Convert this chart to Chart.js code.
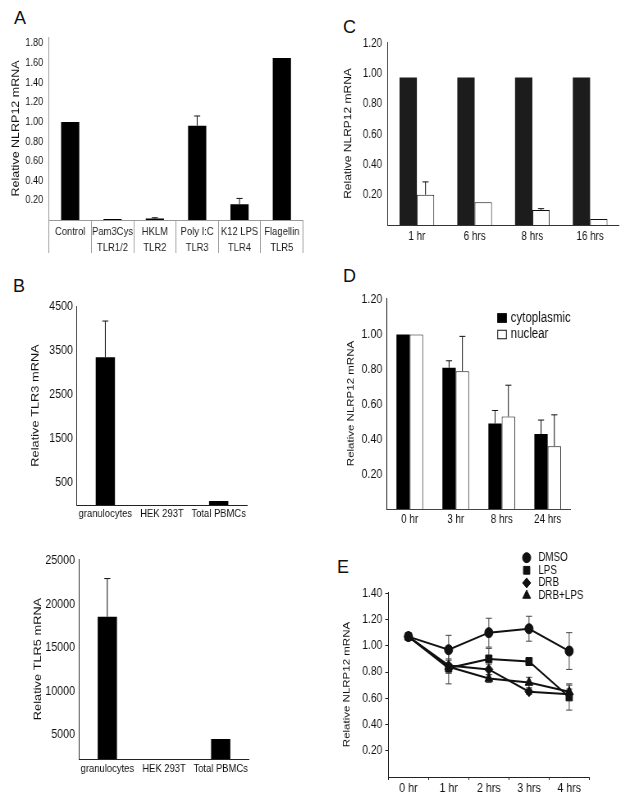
<!DOCTYPE html>
<html>
<head>
<meta charset="utf-8">
<script src="https://cdn.jsdelivr.net/npm/chart.js@4.4.0/dist/chart.umd.min.js"></script>
<style>
  body { margin: 0; background: #fff; width: 626px; height: 799px; position: relative; overflow: hidden; }
  /* the original figure is squeezed horizontally, so every panel is drawn wider and scaled back */
  .panel { position: absolute; transform: scaleX(0.82); transform-origin: 0 0; }
  .letter { position: absolute; font: 18px/1 "Liberation Sans", Arial, sans-serif; color: #111; }
</style>
</head>
<body>
<div class="letter" style="left:14px;top:9px">A</div>
<div class="letter" style="left:13px;top:277px">B</div>
<div class="letter" style="left:343px;top:18px">C</div>
<div class="letter" style="left:343px;top:267px">D</div>
<div class="letter" style="left:337px;top:558px">E</div>

<div class="panel" style="left:0;top:0;width:390px;height:262px"><canvas id="chartA"></canvas></div>
<div class="panel" style="left:0;top:290px;width:390px;height:240px"><canvas id="chartB1"></canvas></div>
<div class="panel" style="left:0;top:530px;width:390px;height:269px"><canvas id="chartB2"></canvas></div>
<div class="panel" style="left:320px;top:0;width:373px;height:250px"><canvas id="chartC"></canvas></div>
<div class="panel" style="left:320px;top:280px;width:373px;height:250px"><canvas id="chartD"></canvas></div>
<div class="panel" style="left:320px;top:540px;width:373px;height:259px"><canvas id="chartE"></canvas></div>

<script>
// ---- data ----
// A: NLRP12 after TLR agonists
const aLabels = [['Control', ''], ['Pam3Cys', 'TLR1/2'], ['HKLM', 'TLR2'], ['Poly I:C', 'TLR3'], ['K12 LPS', 'TLR4'], ['Flagellin', 'TLR5']];
const aValues = [1.00, 0.01, 0.015, 0.96, 0.16, 1.65];
const aErrors = [0, 0, 0.008, 0.10, 0.06, 0];
const aTicks = [0.2, 0.4, 0.6, 0.8, 1.0, 1.2, 1.4, 1.6, 1.8];

// B: TLR3 / TLR5 in cell types
const bCells = ['granulocytes', 'HEK 293T', 'Total PBMCs'];
const tlr3Values = [3340, 0, 90];
const tlr3Errors = [820, 0, 0];
const tlr3Ticks = [500, 1500, 2500, 3500, 4500];
const tlr5Values = [18550, 0, 4500];
const tlr5Errors = [4400, 0, 0];
const tlr5Ticks = [5000, 10000, 15000, 20000, 25000];

// C: time course
const cTimes = ['1 hr', '6 hrs', '8 hrs', '16 hrs'];
const cBlack = [0.975, 0.975, 0.975, 0.975];
const cWhite = [0.20, 0.15, 0.10, 0.04];
const cWhiteErr = [0.085, 0, 0.008, 0];
const cTicks = [0.2, 0.4, 0.6, 0.8, 1.0, 1.2];

// D: cytoplasmic vs nuclear
const dTimes = ['0 hr', '3 hr', '8 hrs', '24 hrs'];
const dCyto = [1.00, 0.81, 0.49, 0.43];
const dCytoErr = [0, 0.04, 0.075, 0.08];
const dNuc = [1.00, 0.79, 0.53, 0.36];
const dNucErr = [0, 0.20, 0.18, 0.18];
const dTicks = [0.2, 0.4, 0.6, 0.8, 1.0, 1.2];

// E: DRB / LPS
const eTimes = ['0 hr', '1 hr', '2 hrs', '3 hrs', '4 hrs'];
const eDMSO = [1.07, 0.97, 1.10, 1.13, 0.96];
const eDMSOErr = [0, 0.11, 0.11, 0.095, 0.14];
const eLPS = [1.07, 0.83, 0.90, 0.88, 0.61];
const eLPSErr = [0, 0.12, 0.08, 0.03, 0.10];
const eDRB = [1.07, 0.85, 0.82, 0.65, 0.63];
const eDRBErr = [0, 0.05, 0.04, 0.02, 0.04];
const eDRBLPS = [1.07, 0.84, 0.75, 0.72, 0.65];
const eDRBLPSErr = [0, 0.05, 0.03, 0.04, 0.05];
const eTicks = [0.2, 0.4, 0.6, 0.8, 1.0, 1.2, 1.4];

const SANS = '"Liberation Sans", Arial, sans-serif';
const INK = '#111';
Chart.defaults.font.family = SANS;
Chart.defaults.color = INK;
Chart.defaults.animation = false;

// error bars (one sided for bars, both sides for lines)
const errorBars = {
  id: 'errorBars',
  draw(chart) {
    const ctx = chart.ctx;
    const y = chart.scales.y;
    chart.data.datasets.forEach((ds, i) => {
      if (!ds.errors) return;
      const meta = chart.getDatasetMeta(i);
      ctx.save();
      ctx.strokeStyle = ds.errorColor || '#111';
      ctx.lineWidth = 1;
      meta.data.forEach((el, j) => {
        const e = ds.errors[j];
        if (!e) return;
        const v = ds.data[j];
        const top = y.getPixelForValue(v + e);
        const both = ds.errorBoth;
        const bottom = both ? y.getPixelForValue(v - e) : el.y;
        const cap = ds.errorCap || 3.7;
        ctx.beginPath();
        ctx.moveTo(el.x, bottom);
        ctx.lineTo(el.x, top);
        ctx.moveTo(el.x - cap, top);
        ctx.lineTo(el.x + cap, top);
        if (both) {
          ctx.moveTo(el.x - cap, bottom);
          ctx.lineTo(el.x + cap, bottom);
        }
        ctx.stroke();
      });
      ctx.restore();
    });
  },
  beforeDatasetsDraw(chart) { if (chart.config.type === 'line') this.draw(chart); },
  afterDatasetsDraw(chart) { if (chart.config.type === 'bar') this.draw(chart); }
};

// small legend placed inside the panel
const cornerLegend = {
  id: 'cornerLegend',
  afterDraw(chart, args, opts) {
    if (opts.x === undefined) return;
    const ctx = chart.ctx;
    ctx.save();
    ctx.font = opts.font;
    ctx.textBaseline = 'middle';
    chart.data.datasets.forEach((ds, i) => {
      const y = opts.y + i * opts.step;
      if (opts.marker === 'box') {
        const w = opts.boxW, h = opts.boxH;
        ctx.fillStyle = ds.backgroundColor;
        ctx.fillRect(opts.x - w / 2, y - h / 2, w, h);
        ctx.strokeStyle = '#111';
        ctx.lineWidth = 1;
        ctx.strokeRect(opts.x - w / 2 + 0.5, y - h / 2 + 0.5, w - 1, h - 1);
      } else {
        ctx.fillStyle = '#111';
        ctx.strokeStyle = '#111';
        Chart.helpers.drawPoint(ctx, { pointStyle: ds.pointStyle, radius: ds.pointRadius, borderWidth: 1, rotation: 0 }, opts.x, y);
      }
      ctx.fillStyle = INK;
      ctx.fillText(ds.label, opts.textX, y);
    });
    ctx.restore();
  }
};
Chart.register(errorBars, cornerLegend);

function fixed(size) { return function (scale) { if (scale.isHorizontal()) scale.height = size; else scale.width = size; }; }
function ticksFrom(list) { return function (scale) { scale.ticks = list.map(v => ({ value: v })); }; }

function yAxis(o) {
  return {
    min: o.min, max: o.max,
    afterFit: fixed(o.width),
    afterBuildTicks: ticksFrom(o.ticks),
    grid: o.grid || { display: false, drawTicks: false },
    border: { color: o.border || '#000', width: 1 },
    ticks: { font: o.tickFont, color: INK, padding: o.pad, callback: o.fmt || (v => v.toFixed(2)) },
    title: { display: true, text: o.title, font: o.titleFont, color: INK, padding: { top: o.titlePad, bottom: 0 } }
  };
}

// ---- A ----
new Chart(document.getElementById('chartA'), {
  type: 'bar',
  data: { labels: aLabels, datasets: [{ data: aValues, errors: aErrors, backgroundColor: '#000', barPercentage: 0.43, categoryPercentage: 1 }] },
  options: {
    responsive: true, maintainAspectRatio: false,
    layout: { padding: { top: 37, right: 20.5, left: 0, bottom: 0 } },
    plugins: { legend: { display: false }, tooltip: { enabled: false } },
    scales: {
      x: {
        afterFit: fixed(42),
        grid: { offset: true, drawOnChartArea: false, drawTicks: true, tickLength: 33, color: '#9a9a9a' },
        border: { color: '#9a9a9a' },
        ticks: { autoSkip: false, maxRotation: 0, padding: -29.5, font: { size: 11.5, lineHeight: 1.39 }, color: '#222' }
      },
      y: yAxis({ min: 0, max: 1.865, width: 59.8, ticks: aTicks, border: '#9a9a9a', pad: 7.3,
        tickFont: { size: 11 }, title: 'Relative NLRP12 mRNA', titleFont: { size: 12.5 }, titlePad: 12 })
    }
  }
});

// ---- B ----
function cellChart(id, values, errors, ticks, min, max, title, top, bottomH, right, titlePad, labelPad, yw) {
  new Chart(document.getElementById(id), {
    type: 'bar',
    data: { labels: bCells, datasets: [{ data: values, errors: errors, backgroundColor: '#000', barPercentage: 0.34, categoryPercentage: 1 }] },
    options: {
      responsive: true, maintainAspectRatio: false,
      layout: { padding: { top: top, right: right, left: 0, bottom: 0 } },
      plugins: { legend: { display: false }, tooltip: { enabled: false } },
      scales: {
        x: {
          afterFit: fixed(bottomH),
          grid: { display: false, drawTicks: false },
          border: { color: '#222' },
          ticks: { autoSkip: false, maxRotation: 0, padding: labelPad, font: { size: 11.5 }, color: INK }
        },
        y: yAxis({ min: min, max: max, width: yw, ticks: ticks, border: '#222', pad: 4.9, fmt: v => String(v),
          tickFont: { size: 13 }, title: title, titleFont: { size: 12.8 }, titlePad: titlePad })
      }
    }
  });
}
cellChart('chartB1', tlr3Values, tlr3Errors, tlr3Ticks, 0, 4500, 'Relative TLR3 mRNA', 16, 25, 88.8, 36.2, 2, 93.9);
cellChart('chartB2', tlr5Values, tlr5Errors, tlr5Ticks, 2200, 25200, 'Relative TLR5 mRNA', 29, 40, 86.3, 38.5, 3, 96.3);

// ---- C ----
new Chart(document.getElementById('chartC'), {
  type: 'bar',
  data: { labels: cTimes, datasets: [
    { data: cBlack, backgroundColor: '#1c1c1c', barPercentage: 1, categoryPercentage: 0.6 },
    { data: cWhite, errors: cWhiteErr, backgroundColor: '#fff', borderColor: '#111', borderWidth: 1, barPercentage: 1, categoryPercentage: 0.6 }
  ] },
  options: {
    responsive: true, maintainAspectRatio: false,
    layout: { padding: { top: 42, right: 8.4, left: 0, bottom: 0 } },
    plugins: { legend: { display: false }, tooltip: { enabled: false } },
    scales: {
      x: {
        afterFit: fixed(25),
        grid: { display: false, drawTicks: false },
        border: { color: '#333' },
        ticks: { maxRotation: 0, padding: 4.5, font: { size: 12 }, color: INK }
      },
      y: yAxis({ min: 0, max: 1.21, width: 82.9, ticks: cTicks, border: '#333', pad: 7.3,
        tickFont: { size: 12 }, title: 'Relative NLRP12 mRNA', titleFont: { size: 12 }, titlePad: 27.3 })
    }
  }
});

// ---- D ----
new Chart(document.getElementById('chartD'), {
  type: 'bar',
  data: { labels: dTimes, datasets: [
    { label: 'cytoplasmic', data: dCyto, errors: dCytoErr, backgroundColor: '#000', barPercentage: 1, categoryPercentage: 0.58 },
    { label: 'nuclear', data: dNuc, errors: dNucErr, backgroundColor: '#fff', borderColor: '#111', borderWidth: 1, barPercentage: 1, categoryPercentage: 0.58 }
  ] },
  options: {
    responsive: true, maintainAspectRatio: false,
    layout: { padding: { top: 18, right: 67.3, left: 0, bottom: 0 } },
    plugins: {
      legend: { display: false }, tooltip: { enabled: false },
      cornerLegend: { x: 222, y: 38, step: 16.5, boxW: 11.6, boxH: 9.5, marker: 'box', textX: 232.6, font: '14px ' + SANS }
    },
    scales: {
      x: {
        afterFit: fixed(21),
        grid: { display: false, drawTicks: false },
        border: { color: '#444' },
        ticks: { maxRotation: 0, padding: 3, font: { size: 12 }, color: INK }
      },
      y: yAxis({ min: 0, max: 1.21, width: 81.4, ticks: dTicks, border: '#000', pad: 5.5,
        tickFont: { size: 13 }, title: 'Relative NLRP12 mRNA', titleFont: { size: 11.5 }, titlePad: 30.9 })
    }
  }
});

// ---- E ----
function series(label, data, errors, style, radius) {
  return { label: label, data: data, errors: errors, errorBoth: true, errorCap: 3.7, errorColor: '#444',
    borderColor: '#111', backgroundColor: '#111', borderWidth: 2, pointStyle: style, pointRadius: radius,
    pointBackgroundColor: '#111', pointBorderColor: '#111', pointBorderWidth: 1, tension: 0 };
}
new Chart(document.getElementById('chartE'), {
  type: 'line',
  data: { labels: eTimes, datasets: [
    series('DMSO', eDMSO, eDMSOErr, 'circle', 5),
    series('LPS', eLPS, eLPSErr, 'rect', 5.5),
    series('DRB', eDRB, eDRBErr, 'rectRot', 5),
    series('DRB+LPS', eDRBLPS, eDRBLPSErr, 'triangle', 5.5)
  ] },
  options: {
    responsive: true, maintainAspectRatio: false,
    layout: { padding: { top: 52, right: 44.6, left: 0, bottom: 0 } },
    plugins: {
      legend: { display: false }, tooltip: { enabled: false },
      cornerLegend: { x: 252, y: 17.7, step: 12.6, marker: 'point', textX: 266.2, font: '12px ' + SANS }
    },
    scales: {
      x: {
        offset: true,
        afterFit: fixed(22),
        grid: { offset: true, drawOnChartArea: false, drawTicks: true, tickLength: 3, color: '#222' },
        border: { color: '#222' },
        ticks: { maxRotation: 0, padding: 1, font: { size: 13 }, color: INK }
      },
      y: yAxis({ min: 0, max: 1.41, width: 83.3, ticks: eTicks, border: '#222', pad: 3.7,
        grid: { drawOnChartArea: false, drawTicks: true, tickLength: 3.7, color: '#222' },
        tickFont: { size: 12.5 }, title: 'Relative NLRP12 mRNA', titleFont: { size: 11.5 }, titlePad: 25.7 })
    }
  }
});
</script>
</body>
</html>
